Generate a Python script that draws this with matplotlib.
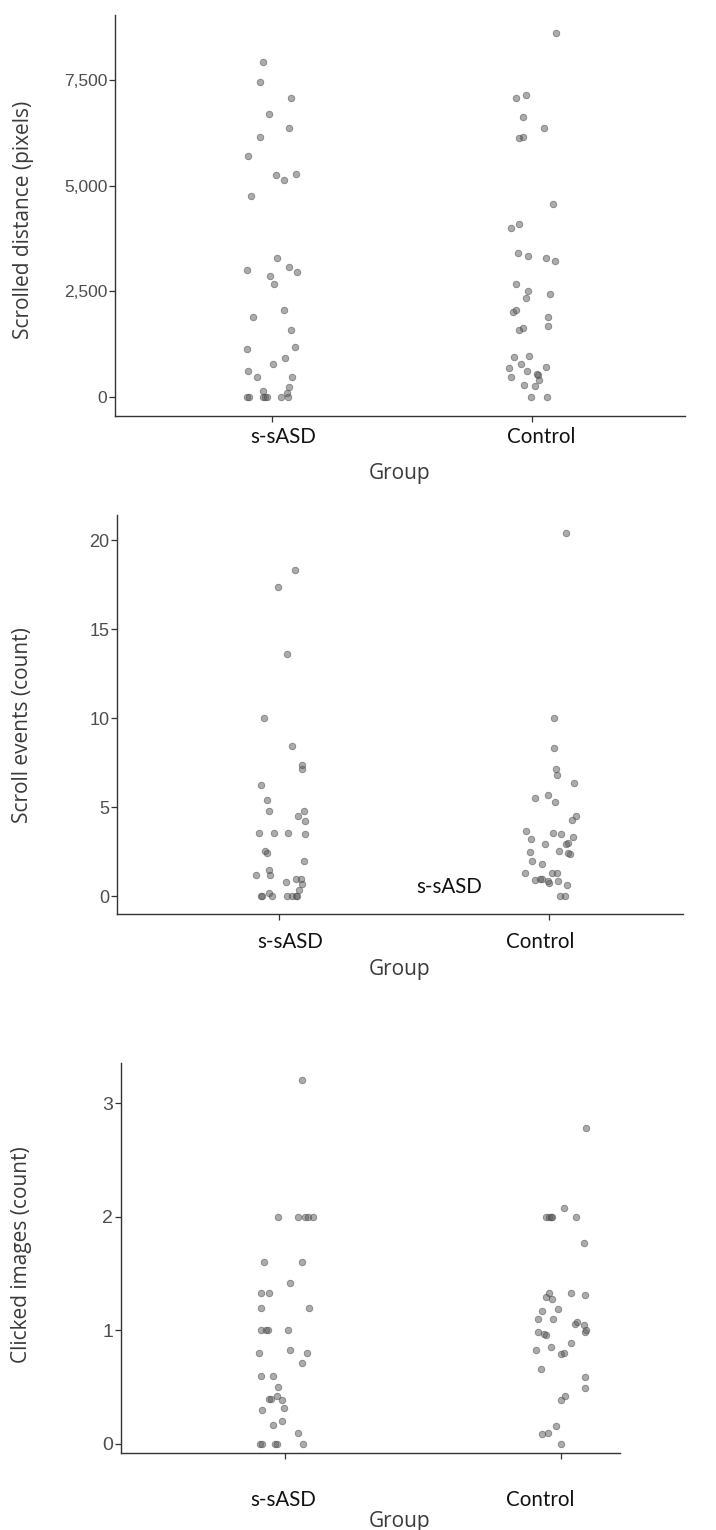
import matplotlib
matplotlib.use("Agg")
import numpy as np
import matplotlib.pyplot as plt

# ---- data (value, horizontal jitter in category units)
groups = ["s-sASD", "Control"]

dist_sasd = [7933, 7445, 7081, 6702, 6356, 6151, 5709, 5252, 5126, 5268, 4763,
             3288, 2996, 3083, 2965, 2863, 2665, 2058, 1885, 1593, 1183, 1143,
             923, 781, 623, 473, 473, 237, 142, 102, 0, 0, 0, 0, 0, 0, 0]
dist_sasd_jit = [-0.033, -0.045, 0.073, -0.010, 0.065, -0.047, -0.092, 0.015, 0.047,
                 0.091, -0.081, 0.020, -0.097, 0.065, 0.095, -0.007, 0.008, 0.046,
                 -0.072, 0.072, 0.087, -0.095, 0.051, 0.003, -0.093, -0.058, 0.076,
                 0.067, -0.033, 0.057, -0.097, -0.090, -0.036, -0.029, -0.018, 0.035,
                 0.063]
dist_ctrl = [8619, 7081, 7145, 6617, 6356, 6127, 6151, 4559, 4100, 4005, 3407,
             3343, 3288, 3217, 2666, 2508, 2335, 2437, 2018, 2058, 1885, 1687,
             1585, 1625, 946, 977, 781, 686, 717, 623, 466, 528, 540, 402, 284,
             260, 0, 0]
dist_ctrl_jit = [0.090, -0.062, -0.023, -0.036, 0.045, -0.051, -0.036, 0.082, -0.051,
                 -0.082, -0.054, -0.017, 0.055, 0.088, -0.062, -0.017, -0.022, 0.068,
                 -0.072, -0.062, 0.063, 0.060, -0.051, -0.036, -0.070, -0.010, -0.042,
                 -0.087, 0.053, -0.020, -0.080, 0.024, 0.019, 0.026, -0.030, 0.012,
                 -0.005, 0.058]

events_sasd = [18.31, 17.39, 13.61, 10.0, 8.44, 7.38, 7.13, 6.24, 5.41, 4.81, 4.53,
               4.78, 4.25, 3.57, 3.57, 3.57, 3.48, 2.54, 2.41, 1.98, 1.48, 1.18,
               1.18, 0.80, 0.97, 0.97, 0.67, 0.35, 0.2, 0, 0, 0, 0, 0, 0, 0]
events_sasd_jit = [0.058, -0.004, 0.031, -0.054, 0.048, 0.086, 0.086, -0.067, -0.044,
                   -0.037, 0.070, 0.091, 0.096, -0.074, -0.020, 0.033, 0.096, -0.052,
                   -0.043, 0.091, -0.038, -0.085, -0.032, 0.027, 0.062, 0.080, 0.086,
                   0.074, -0.037, -0.068, -0.063, -0.027, 0.031, 0.047, 0.062, 0.065]
events_ctrl = [20.43, 10.0, 8.31, 7.15, 6.81, 6.38, 5.52, 5.71, 5.31, 4.51, 4.27,
               3.69, 3.57, 3.48, 3.33, 3.20, 2.92, 2.94, 2.98, 2.51, 2.54, 2.41,
               2.36, 1.98, 1.80, 1.31, 1.31, 1.31, 0.90, 0.97, 0.95, 0.84, 0.73,
               0.88, 0.63, 0, 0]
events_ctrl_jit = [0.062, 0.020, 0.020, 0.025, 0.030, 0.094, -0.051, -0.004, 0.022,
                   0.099, 0.084, -0.085, 0.015, 0.046, 0.090, -0.067, -0.014, 0.063,
                   0.069, -0.071, 0.038, 0.070, 0.076, -0.062, -0.026, -0.090, 0.011,
                   0.031, -0.052, -0.032, -0.028, -0.005, -0.001, 0.034, 0.067, 0.041,
                   0.059]

clicks_sasd = [3.20, 2.0, 2.0, 2.0, 2.0, 2.0, 1.6, 1.6, 1.42, 1.33, 1.33, 1.2, 1.2,
               1.0, 1.0, 1.0, 1.0, 0.8, 0.83, 0.8, 0.71, 0.6, 0.6, 0.5, 0.4, 0.4,
               0.42, 0.39, 0.32, 0.30, 0.2, 0.17, 0.1, 0, 0, 0, 0, 0]
clicks_sasd_jit = [0.063, -0.025, 0.048, 0.074, 0.083, 0.101, -0.077, 0.063, 0.018,
                   -0.088, -0.058, -0.087, 0.089, -0.086, -0.067, -0.060, 0.010,
                   -0.095, 0.019, 0.079, 0.063, -0.088, -0.045, -0.024, -0.058,
                   -0.051, -0.030, -0.011, -0.004, -0.083, -0.010, -0.045, 0.046,
                   -0.089, -0.083, -0.036, -0.029, 0.064]
clicks_ctrl = [2.78, 2.08, 2.0, 2.0, 2.0, 2.0, 2.0, 1.77, 1.33, 1.29, 1.28, 1.33,
               1.31, 1.19, 1.17, 1.10, 1.10, 1.06, 1.07, 1.05, 0.99, 0.97, 0.96,
               0.99, 1.0, 0.89, 0.85, 0.83, 0.79, 0.80, 0.66, 0.59, 0.49, 0.39,
               0.42, 0.16, 0.09, 0.10, 0]
clicks_ctrl_jit = [0.092, 0.010, -0.054, -0.042, -0.036, -0.031, 0.054, 0.083, -0.042,
                   -0.054, -0.033, 0.037, 0.089, -0.011, -0.068, -0.084, -0.029, 0.051,
                   0.058, 0.083, -0.084, -0.060, -0.053, 0.086, 0.092, 0.037, -0.035,
                   -0.089, 0.000, 0.010, -0.071, 0.086, 0.087, 0.001, 0.013, -0.017,
                   -0.070, -0.046, 0.000]

W, H = 716, 1530
fig = plt.figure(figsize=(W / 100, H / 100), dpi=100)

AXC = "#333333"
TICKC = "#4d4d4d"


def box(x0, y0, x1, y1):
    return [x0 / W, 1 - y1 / H, (x1 - x0) / W, (y1 - y0) / H]


def ftext(x, y, s, **kw):
    fig.text(x / W, 1 - y / H, s, ha="center", va="center", **kw)


def panel(rect, sasd, sasd_jit, ctrl, ctrl_jit, xlim, ylim, yticks, ytl, tsize):
    ax = fig.add_axes(box(*rect))
    for i, (vals, jit) in enumerate([(sasd, sasd_jit), (ctrl, ctrl_jit)]):
        xs = np.array(jit) + i + 1
        ax.scatter(xs, vals, s=22, facecolor=(0.35, 0.35, 0.35, 0.5),
                   edgecolor=(0.3, 0.3, 0.3, 0.6), linewidth=0.6, zorder=3)
    ax.set_xlim(*xlim)
    ax.set_ylim(*ylim)
    ax.set_xticks([1, 2])
    ax.set_xticklabels(["", ""])
    ax.set_yticks(yticks)
    ax.set_yticklabels(ytl, fontfamily="Liberation Sans", fontsize=tsize, color=TICKC)
    for s in ["top", "right"]:
        ax.spines[s].set_visible(False)
    for s in ["left", "bottom"]:
        ax.spines[s].set_color(AXC)
        ax.spines[s].set_linewidth(1.0)
    ax.tick_params(length=4, width=0.9, color=AXC, pad=1.5)
    return ax


# panel 1 - scrolled distance
panel((115, 15, 685, 416), dist_sasd, dist_sasd_jit, dist_ctrl, dist_ctrl_jit,
      (0.396, 2.588), (-450, 9037), [0, 2500, 5000, 7500],
      ["0", "2,500", "5,000", "7,500"], 12.5)
# panel 2 - scroll events
panel((117, 515, 683, 914), events_sasd, events_sasd_jit, events_ctrl, events_ctrl_jit,
      (0.4, 2.496), (-0.994, 21.42), [0, 5, 10, 15, 20],
      ["0", "5", "10", "15", "20"], 13)
# panel 3 - clicked images
panel((120.7, 1063, 620, 1452.7), clicks_sasd, clicks_sasd_jit, clicks_ctrl,
      clicks_ctrl_jit, (0.405, 2.214), (-0.077, 3.354), [0, 1, 2, 3],
      ["0", "1", "2", "3"], 14)

titlekw = dict(fontfamily="Open Sans", fontsize=15, color="#3a3a3a")
catkw = dict(fontfamily="Lato", fontsize=14.8, color="#111111")

ftext(24, 220, "Scrolled distance (pixels)", rotation=90, **titlekw)
ftext(23, 725, "Scroll events (count)", rotation=90, **titlekw)
ftext(22, 1255, "Clicked images (count)", rotation=90, **titlekw)

for y in (473, 970, 1522):
    ftext(400, y, "Group", **titlekw)

ftext(283, 437, groups[0], **catkw)
ftext(541, 437, groups[1], **catkw)
ftext(290, 942, groups[0], **catkw)
ftext(540, 942, groups[1], **catkw)
ftext(283, 1500, groups[0], **catkw)
ftext(540, 1500, groups[1], **catkw)
# stray label that sits inside the middle panel of the original
ftext(449, 887, groups[0], **catkw)

fig.savefig("out.png", dpi=100)
